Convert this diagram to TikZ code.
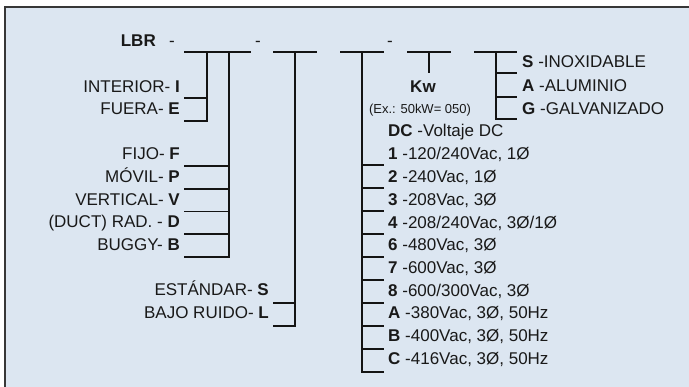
\documentclass[tikz,border=0pt]{standalone}
\usepackage{fontspec}
\setmainfont{Liberation Sans}
\definecolor{bgc}{RGB}{220,230,241}
\definecolor{frm}{RGB}{55,55,55}
\definecolor{txt}{RGB}{25,25,25}
\definecolor{lnc}{RGB}{20,20,20}
\begin{document}
\begin{tikzpicture}[x=1pt,y=-1pt,
  lbl/.style={inner sep=0pt, font=\fontsize{17}{20}\selectfont, text=txt},
  small/.style={inner sep=0pt, font=\fontsize{13}{15}\selectfont, text=txt},
  ln/.style={line width=1.2pt, draw=lnc},
  lft/.style={lbl, anchor=base east},
  rgt/.style={lbl, anchor=base west}]
\useasboundingbox (0,0) rectangle (689,387);
\fill[white] (0,0) rectangle (689,387);
\fill[bgc] (5,7) rectangle (689,387);
\draw[line width=2pt, draw=frm] (5,387) -- (5,7) -- (689,7);

% header
\node[lbl, anchor=base east] (lbr) at (156,47) {\textbf{LBR}};
\node[lbl, anchor=base] (d1) at (172,47) {-};
\node[lbl, anchor=base] (d2) at (258,47) {-};
\node[lbl, anchor=base] (d3) at (390,47) {-};

% top segments
\coordinate (s1a) at (184,52); \coordinate (s1b) at (251,52);
\coordinate (s2a) at (273,52); \coordinate (s2b) at (317,52);
\coordinate (s3a) at (340,52); \coordinate (s3b) at (384,52);
\coordinate (s4a) at (407,52); \coordinate (s4b) at (451,52);
\coordinate (s5a) at (474,52); \coordinate (s5b) at (517,52);
\foreach \s in {1,...,5} \draw[ln] (s\s a) -- (s\s b);

% bracket 1 : I / E
\coordinate (v1t) at (207,52);
\node[lft] (lI) at (180,93) {INTERIOR- \textbf{I}};
\node[lft] (lE) at (180,115) {FUERA- \textbf{E}};
\coordinate (t1a) at (184,98); \coordinate (t1b) at (184,121);
\draw[ln] (v1t) |- (t1b);
\draw[ln] (t1a) -- (t1a -| v1t);

% bracket 2 : F P V D B
\coordinate (v2t) at (229,52);
\node[lft] (lF) at (180,160) {FIJO- \textbf{F}};
\node[lft] (lP) at (180,183) {MÓVIL- \textbf{P}};
\node[lft] (lV) at (180,206) {VERTICAL- \textbf{V}};
\node[lft] (lD) at (180,228) {(DUCT) RAD. - \textbf{D}};
\node[lft] (lB) at (180,251) {BUGGY- \textbf{B}};
\foreach \i/\y in {1/166,2/189,3/211.5,4/234,5/257}
  \coordinate (t2\i) at (184,\y);
\draw[ln] (v2t) |- (t25);
\foreach \i in {1,...,4} \draw[ln] (t2\i) -- (t2\i -| v2t);

% bracket 3 : S L
\coordinate (v3t) at (295,52);
\node[lft] (lS) at (269,296) {ESTÁNDAR- \textbf{S}};
\node[lft] (lL) at (269,319) {BAJO RUIDO- \textbf{L}};
\coordinate (t31) at (273,303); \coordinate (t32) at (273,326);
\draw[ln] (v3t) |- (t32);
\draw[ln] (t31) -- (t31 -| v3t);

% bracket 4 : voltages
\coordinate (v4t) at (362,52);
\node[rgt] (vDC) at (388,137) {\textbf{DC} -Voltaje DC};
\node[rgt] (v1) at (388,159.5) {\textbf{1} -120/240Vac, 1Ø};
\node[rgt] (v2) at (388,182.5) {\textbf{2} -240Vac, 1Ø};
\node[rgt] (v3) at (388,205.5) {\textbf{3} -208Vac, 3Ø};
\node[rgt] (v4) at (388,228.5) {\textbf{4} -208/240Vac, 3Ø/1Ø};
\node[rgt] (v6) at (388,251) {\textbf{6} -480Vac, 3Ø};
\node[rgt] (v7) at (388,273.5) {\textbf{7} -600Vac, 3Ø};
\node[rgt] (v8) at (388,296.5) {\textbf{8} -600/300Vac, 3Ø};
\node[rgt] (vA) at (388,319) {\textbf{A} -380Vac, 3Ø, 50Hz};
\node[rgt] (vB) at (388,342) {\textbf{B} -400Vac, 3Ø, 50Hz};
\node[rgt] (vC) at (388,365) {\textbf{C} -416Vac, 3Ø, 50Hz};
\foreach \i/\y in {1/165,2/188,3/211,4/234,5/257,6/280,7/303,8/326,9/349,10/372}
  \coordinate (t4\i) at (384,\y);
\draw[ln] (v4t) |- (t410);
\foreach \i in {1,...,9} \draw[ln] (t4\i -| v4t) -- (t4\i);

% bracket 5 : Kw
\coordinate (v5t) at (429,52);
\node[lbl, anchor=base] (kw) at (423,93) {\textbf{Kw}};
\node[small, anchor=base] (ex) at (420,114) {(Ex.: 50kW= 050)};
\coordinate (v5b) at (429,73);
\draw[ln] (v5t) -- (v5b);

% bracket 6 : materials
\coordinate (v6t) at (496,52);
\node[rgt] (mS) at (522,68) {\textbf{S} -INOXIDABLE};
\node[rgt] (mA) at (522,92) {\textbf{A} -ALUMINIO};
\node[rgt] (mG) at (522,115) {\textbf{G} -GALVANIZADO};
\coordinate (t61) at (517,73); \coordinate (t62) at (517,97); \coordinate (t63) at (517,119);
\draw[ln] (v6t) |- (t63);
\draw[ln] (t61 -| v6t) -- (t61);
\draw[ln] (t62 -| v6t) -- (t62);
\end{tikzpicture}
\end{document}
